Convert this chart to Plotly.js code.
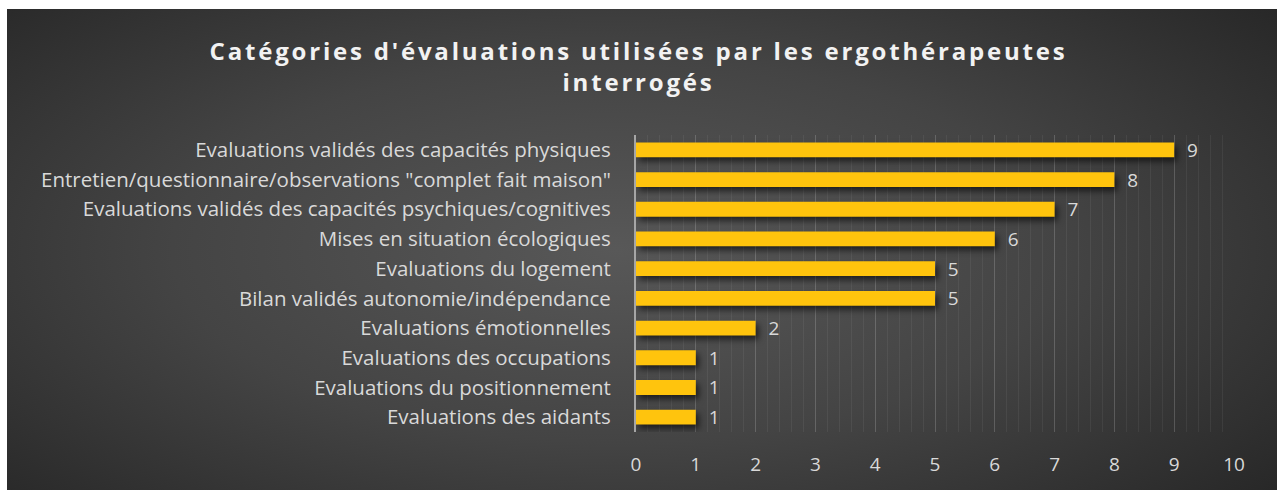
<!DOCTYPE html>
<html>
<head>
<meta charset="utf-8">
<script src="https://cdn.plot.ly/plotly-3.0.1.min.js"></script>
<style>
  html, body { margin: 0; padding: 0; background: #ffffff; }
  #wrap { position: relative; width: 1277px; height: 490px; overflow: hidden; }
  #bg { position: absolute; left: 7px; top: 9px; width: 1270px; height: 481px;
        background: radial-gradient(ellipse 70% 80% at 48% 50%, #585858 0%, #444444 50%, #262626 100%); }
  #chart { position: absolute; left: 0; top: 0; width: 1277px; height: 490px; }
  .gtitle { letter-spacing: 2.8px; }
  .bars .point path { filter: drop-shadow(3px 4px 3px rgba(0,0,0,0.6)); }
</style>
</head>
<body>
<div id="wrap"><div id="bg"></div><div id="chart"></div></div>
<script>
const categories = [
  "Evaluations validés des capacités physiques",
  "Entretien/questionnaire/observations \"complet fait maison\"",
  "Evaluations validés des capacités psychiques/cognitives",
  "Mises en situation écologiques",
  "Evaluations du logement",
  "Bilan validés autonomie/indépendance",
  "Evaluations émotionnelles",
  "Evaluations des occupations",
  "Evaluations du positionnement",
  "Evaluations des aidants"
];
const values = [9, 8, 7, 6, 5, 5, 2, 1, 1, 1];
const xTicks = [0, 1, 2, 3, 4, 5, 6, 7, 8, 9, 10];
const titleText = "Catégories d'évaluations utilisées par les ergothérapeutes<br>interrogés";

const trace = {
  type: 'bar',
  orientation: 'h',
  x: values,
  y: categories,
  width: 0.5,
  marker: {
    color: '#FFC40D',
    line: { width: 0 }
  },
  texttemplate: '\u00a0\u00a0%{x}',
  textposition: 'outside',
  constraintext: 'none',
  cliponaxis: false,
  textfont: { family: '"Open Sans", sans-serif', size: 19, color: '#d9d9d9' },
  hoverinfo: 'none'
};

const layout = {
  width: 1277,
  height: 490,
  paper_bgcolor: 'rgba(0,0,0,0)',
  plot_bgcolor: 'rgba(0,0,0,0)',
  margin: { l: 636, r: 43, t: 135, b: 58, pad: 0 },
  showlegend: false,
  title: {
    text: titleText,
    font: { family: '"Open Sans", sans-serif', size: 24, color: '#f2f2f2', weight: 'bold' },
    x: 0.5, xanchor: 'center',
    y: 0.878, yanchor: 'middle'
  },
  font: { family: '"Open Sans", sans-serif', color: '#d9d9d9' },
  xaxis: {
    range: [0, 10],
    tickvals: xTicks,
    ticktext: xTicks.map(String),
    showgrid: true,
    gridcolor: 'rgba(255,255,255,0.13)',
    gridwidth: 1,
    minor: { dtick: 0.2, showgrid: true, gridcolor: 'rgba(255,255,255,0.06)', gridwidth: 1 },
    zeroline: false,
    showline: false,
    ticks: '',
    ticklabelstandoff: 19,
    tickfont: { family: '"Open Sans", sans-serif', size: 19, color: '#d9d9d9' },
    fixedrange: true
  },
  yaxis: {
    categoryorder: 'array',
    categoryarray: categories,
    autorange: 'reversed',
    showgrid: false,
    zeroline: false,
    showline: true,
    linecolor: '#a6a6a6',
    linewidth: 2,
    ticks: '',
    ticklabelstandoff: 19,
    tickfont: { family: '"Open Sans", sans-serif', size: 20.5, color: '#d9d9d9' },
    fixedrange: true
  }
};

Plotly.newPlot('chart', [trace], layout, { displayModeBar: false, staticPlot: true });
</script>
</body>
</html>
